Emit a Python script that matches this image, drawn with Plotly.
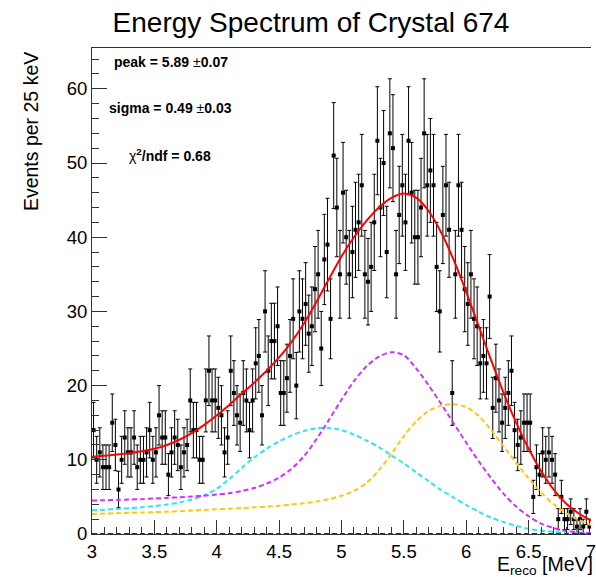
import numpy as np
import plotly.graph_objects as go

# ---------------- data ----------------
bin_low = 3.0
bin_width = 0.025  # MeV
counts = [
    14, 10, 11, 9, 9, 9, 15, 12, 6, 10,
    13, 11, 11, 13, 9, 10, 10, 11, 14, 10,
    11, 16, 13, 13, 8, 11, 13, 12, 9, 11,
    12, 18, 14, 14, 10, 10, 18, 22, 18, 18,
    17, 16, 11, 13, 22, 19, 16, 15, 19, 18,
    14, 18, 23, 24, 16, 30, 22, 26, 26, 28,
    19, 19, 21, 24, 29, 20, 30, 29, 31, 27,
    28, 33, 35, 25, 37, 39, 29, 51, 44, 35,
    46, 40, 35, 38, 41, 42, 47, 35, 34, 36,
    42, 53, 44, 50, 38, 54, 52, 35, 43, 47,
    42, 53, 46, 40, 40, 44, 54, 47, 49, 47,
    36, 30, 43, 47, 41, 19, 35, 47, 41, 33,
    31, 35, 29, 28, 23, 24, 23, 32, 17, 21,
    18, 15, 17, 19, 22, 14, 12, 13, 15, 15,
    15, 5, 9, 8, 11, 10, 11, 10, 8, 2,
    5, 2, 2, 3, 2, 1, 2, 1, 3, 1,
]

curve_x = [round(3.0 + 0.1 * k, 1) for k in range(41)]
total_fit = [
    10.4, 10.55, 10.7, 10.9, 11.15, 11.5, 12.0, 12.7, 13.6, 14.7,
    16.0, 17.4, 18.9, 20.4, 22.0, 23.8, 25.9, 28.4, 31.3, 34.4,
    37.4, 40.0, 42.2, 44.0, 45.3, 45.9, 45.3, 43.5, 40.6, 36.9,
    32.6, 28.0, 23.4, 19.0, 15.0, 11.5, 8.5, 6.0, 4.1, 2.8,
    1.8,
]
magenta_comp = [
    4.5, 4.55, 4.6, 4.65, 4.7, 4.78, 4.86, 4.95, 5.05, 5.17,
    5.32, 5.5, 5.8, 6.2, 6.8, 7.6, 8.8, 10.5, 12.8, 15.4,
    18.1, 20.6, 22.6, 23.9, 24.5, 24.1, 22.3, 20.0, 17.5, 14.9,
    12.3, 9.8, 7.5, 5.4, 3.7, 2.4, 1.4, 0.8, 0.4, 0.2,
    0.1,
]
cyan_comp = [
    3.2, 3.28, 3.37, 3.47, 3.6, 3.76, 3.97, 4.25, 4.65, 5.25,
    6.1, 7.4, 8.9, 10.3, 11.5, 12.5, 13.3, 13.9, 14.25, 14.3,
    14.0, 13.4, 12.6, 11.7, 10.6, 9.5, 8.3, 7.1, 5.9, 4.9,
    3.9, 3.0, 2.2, 1.6, 1.1, 0.7, 0.45, 0.3, 0.2, 0.1,
    0.1,
]
orange_comp = [
    2.7, 2.75, 2.8, 2.85, 2.9, 2.95, 3.0, 3.08, 3.16, 3.24,
    3.32, 3.4, 3.5, 3.6, 3.7, 3.82, 3.96, 4.14, 4.38, 4.7,
    5.15, 5.8, 6.9, 8.6, 10.8, 13.2, 15.2, 16.6, 17.3, 17.5,
    17.1, 15.9, 14.0, 11.8, 9.6, 7.5, 5.6, 4.0, 2.8, 1.9,
    1.2,
]
blue_comp = [0.0] * 41

x_tickvals = [3, 3.5, 4, 4.5, 5, 5.5, 6, 6.5, 7]
x_ticktext = ["3", "3.5", "4", "4.5", "5", "5.5", "6", "6.5", "7"]
y_tickvals = [0, 10, 20, 30, 40, 50, 60]
y_ticktext = ["0", "10", "20", "30", "40", "50", "60"]

title_text = "Energy Spectrum of Crystal 674"
ytitle_text = "Events per 25 keV"
xtitle_text = "E<sub>reco</sub> [MeV]"
stat_lines = [
    "<b>peak = 5.89 </b>±<b>0.07</b>",
    "<b>sigma = 0.49 </b>±<b>0.03</b>",
    "χ<b><sup>2</sup>/ndf = 0.68</b>",
]

# ---------------- figure ----------------
FONT = "Liberation Sans, Arial, Helvetica, sans-serif"
counts_arr = np.array(counts, dtype=float)
centers = bin_low + bin_width * (np.arange(len(counts)) + 0.5)
errors = np.sqrt(counts_arr)

fig = go.Figure()

fig.add_trace(go.Scatter(
    x=centers, y=counts_arr, mode="markers",
    marker=dict(symbol="square", size=4, color="black"),
    error_y=dict(type="data", array=errors, visible=True,
                 color="black", thickness=1, width=2),
    hoverinfo="skip",
))

dash = "5px,3px"
for ys, col in [(cyan_comp, "#2fe6f0"), (magenta_comp, "#cc33ff"),
                (orange_comp, "#ffc61a"), (blue_comp, "#1a1acc")]:
    fig.add_trace(go.Scatter(
        x=curve_x, y=ys, mode="lines",
        line=dict(color=col, width=2, dash=dash, shape="spline", smoothing=0.8),
        hoverinfo="skip",
    ))

fig.add_trace(go.Scatter(
    x=curve_x, y=total_fit, mode="lines",
    line=dict(color="#ff0000", width=2, shape="spline", smoothing=0.8),
    hoverinfo="skip",
))

W, H = 596, 577
L, R, T, B = 92, 0, 48, 43

fig.update_layout(
    width=W, height=H,
    margin=dict(l=L, r=R, t=T, b=B, pad=0),
    paper_bgcolor="white", plot_bgcolor="white",
    showlegend=False,
    font=dict(family=FONT, color="black"),
    title=dict(text=title_text, font=dict(family=FONT, size=28, color="black"),
               x=311 / W, y=1 - 22 / H, xref="container", yref="container",
               xanchor="center", yanchor="middle"),
    xaxis=dict(range=[3, 7], showgrid=False, zeroline=False,
               showline=True, linecolor="#333333", linewidth=1, mirror=True,
               ticks="inside", ticklen=14, tickwidth=1, tickcolor="#333333",
               tickmode="array", tickvals=x_tickvals, ticktext=x_ticktext,
               tickangle=0, ticklabeloverflow="allow",
               minor=dict(ticks="inside", ticklen=7, tickwidth=1,
                          tickcolor="#333333", tick0=3, dtick=0.1, showgrid=False),
               tickfont=dict(family=FONT, size=18.5, color="black"),
               ticklabelstandoff=1),
    yaxis=dict(range=[0, 65.5], showgrid=False, zeroline=False,
               showline=True, linecolor="#333333", linewidth=1,
               ticks="inside", ticklen=15, tickwidth=1, tickcolor="#333333",
               tickmode="array", tickvals=y_tickvals, ticktext=y_ticktext,
               minor=dict(ticks="inside", ticklen=7, tickwidth=1,
                          tickcolor="#333333", tick0=0, dtick=2, showgrid=False),
               tickfont=dict(family=FONT, size=18.5, color="black"),
               ticklabelstandoff=0),
)

pw = W - L - R
ph = H - T - B

annotations = [
    dict(text=ytitle_text, textangle=-90, xref="paper", yref="paper",
         x=(30 - L) / pw, y=1 - (50 - T) / ph, xanchor="center", yanchor="top",
         showarrow=False, font=dict(family=FONT, size=19.5, color="black")),
    dict(text=xtitle_text, xref="paper", yref="paper",
         x=1, y=-(551 - (T + ph)) / ph, xanchor="right", yanchor="top",
         xshift=4, showarrow=False, font=dict(family=FONT, size=19.5, color="black")),
]
stat_pos = [(112, 62), (107, 108), (127, 155)]
for txt, (px, py) in zip(stat_lines, stat_pos):
    annotations.append(dict(
        text=txt, xref="paper", yref="paper",
        x=(px - L) / pw, y=1 - (py - T) / ph, xanchor="left", yanchor="middle",
        showarrow=False, font=dict(family=FONT, size=14, color="black")))
fig.update_layout(annotations=annotations)

fig.write_html("out.html")
